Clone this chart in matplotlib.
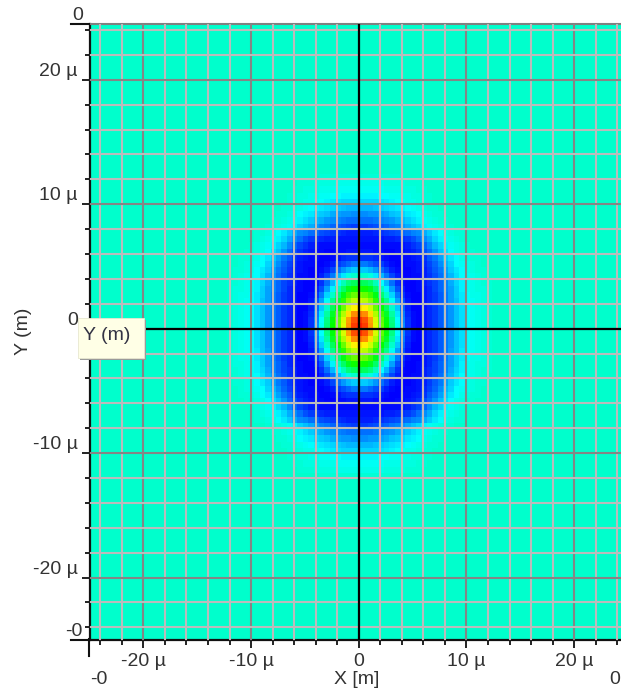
import numpy as np
import matplotlib
matplotlib.use("Agg")
import matplotlib.pyplot as plt
from matplotlib.colors import LinearSegmentedColormap
from matplotlib.patches import Rectangle
from matplotlib.ticker import FixedLocator

W, H = 621, 689

major_ticks = [-20, -10, 0, 10, 20]
x_tick_labels = ["-20 µ", "-10 µ", "0", "10 µ", "20 µ"]
y_tick_labels = ["-20 µ", "-10 µ", "0", "10 µ", "20 µ"]
minor_ticks = [-24, -22, -18, -16, -14, -12, -8, -6, -4, -2, 2, 4, 6, 8, 12, 14, 16, 18, 22, 24]
background_level = 30

# Upper-right quadrant of the field, read cell by cell; rows run away from the centre.
quadrant = np.array([
    [97,94,85,72,60,50,38,26,14, 5, 1, 0, 2, 4, 6, 9,12,15,19,22,25,26,27,28,29,30,30],
    [95,92,84,71,59,49,37,25,13, 5, 1, 0, 2, 4, 6, 9,12,15,19,22,25,26,27,28,29,30,30],
    [88,86,78,67,56,46,34,23,12, 4, 1, 0, 2, 4, 6, 9,12,15,19,22,25,26,27,28,29,30,30],
    [78,76,70,60,50,41,30,20,10, 3, 0, 0, 2, 4, 6, 9,12,15,19,22,25,26,27,28,29,30,30],
    [70,68,63,54,45,36,26,16, 8, 2, 0, 0, 2, 4, 6, 9,12,16,19,23,25,26,27,28,29,30,30],
    [62,60,56,48,39,30,21,12, 5, 1, 0, 0, 2, 4, 6, 9,12,16,20,23,25,27,27,28,29,30,30],
    [52,51,47,40,32,24,16, 8, 3, 0, 0, 1, 2, 4, 7,10,13,16,20,24,26,27,28,28,29,30,30],
    [42,41,38,32,25,18,11, 5, 1, 0, 0, 1, 3, 5, 7,10,13,17,21,24,26,27,28,29,29,30,30],
    [30,30,28,23,18,12, 7, 3, 0, 0, 1, 1, 3, 5, 8,11,15,18,22,25,26,27,28,29,30,30,30],
    [20,20,18,15,11, 7, 3, 1, 0, 0, 1, 2, 3, 6, 9,12,16,20,23,25,27,28,29,29,30,30,30],
    [12,12,10, 8, 6, 3, 1, 0, 0, 1, 1, 2, 4, 7,10,14,18,21,25,26,27,28,29,30,30,30,30],
    [ 5, 5, 5, 4, 2, 1, 0, 0, 1, 1, 2, 3, 5, 9,12,16,20,23,25,27,28,29,29,30,30,30,30],
    [ 2, 2, 2, 1, 1, 0, 0, 1, 1, 2, 3, 5, 8,11,15,19,22,25,27,28,29,29,30,30,30,30,30],
    [ 1, 1, 1, 1, 1, 1, 1, 1, 2, 3, 5, 7,10,14,18,21,24,26,27,28,29,30,30,30,30,30,30],
    [ 2, 2, 2, 2, 2, 3, 3, 4, 5, 6, 8,11,14,17,21,24,26,27,28,29,30,30,30,30,30,30,30],
    [ 3, 3, 3, 4, 5, 6, 7, 8,10,11,13,14,17,20,23,25,27,28,29,29,30,30,30,30,30,30,30],
    [ 6, 6, 7, 8, 9,10,12,13,15,17,19,21,24,26,27,28,29,29,30,30,30,30,30,30,30,30,30],
    [11,11,11,12,13,14,15,17,18,20,22,24,26,27,28,29,29,30,30,30,30,30,30,30,30,30,30],
    [14,14,15,15,16,17,19,20,21,23,24,25,27,28,29,29,30,30,30,30,30,30,30,30,30,30,30],
    [18,18,18,19,20,21,22,23,24,25,26,27,28,29,29,30,30,30,30,30,30,30,30,30,30,30,30],
    [21,21,21,21,22,23,24,25,26,27,27,28,29,29,30,30,30,30,30,30,30,30,30,30,30,30,30],
    [24,24,24,24,25,25,26,26,27,27,28,28,29,29,30,30,30,30,30,30,30,30,30,30,30,30,30],
    [26,26,26,26,26,27,27,27,28,28,28,29,29,30,30,30,30,30,30,30,30,30,30,30,30,30,30],
    [27,27,27,27,27,28,28,28,28,29,29,29,30,30,30,30,30,30,30,30,30,30,30,30,30,30,30],
    [29,29,29,29,29,29,29,29,30,30,30,30,30,30,30,30,30,30,30,30,30,30,30,30,30,30,30],
])

# Whole field: mirror the quadrant and surround it with the flat background level.
half_cells = 50
field = np.full((2 * half_cells + 1, 2 * half_cells + 1), background_level, dtype=float)
rows, cols = quadrant.shape
for j in range(rows):
    for i in range(cols):
        for sj in (-1, 1):
            for si in (-1, 1):
                field[half_cells + sj * j, half_cells + si * i] = quadrant[j, i]

cmap = LinearSegmentedColormap.from_list(
    "rainbow5", [(0, 0, 1), (0, 1, 1), (0, 1, 0), (1, 1, 0), (1, 0, 0)], N=512)

plt.rcParams["font.family"] = ["Liberation Sans", "DejaVu Sans"]
TXT = "#333333"
FS = 14

fig = plt.figure(figsize=(W / 100, H / 100), dpi=100, facecolor="white")
left, right, top, bottom = 89.5, 628.0, 24.0, 639.5
ax = fig.add_axes([left / W, 1 - bottom / H, (right - left) / W, (bottom - top) / H])

# The displayed field sits slightly above the axis origin in the reference.
ax.imshow(field, cmap=cmap, vmin=0, vmax=100, origin="lower", aspect="auto",
          interpolation="nearest", extent=(-25.25, 25.25, -25.05, 25.45), zorder=1)
ax.set_xlim(-25, 25)
ax.set_ylim(-24.98, 24.48)

ax.set_xticks(major_ticks)
ax.set_xticklabels(x_tick_labels)
ax.set_yticks(major_ticks)
ax.set_yticklabels(y_tick_labels)
ax.xaxis.set_minor_locator(FixedLocator(minor_ticks))
ax.yaxis.set_minor_locator(FixedLocator(minor_ticks))

ax.grid(which="minor", color="#bbbbbb", lw=1.5, zorder=2)
ax.grid(which="major", color="#858585", lw=1.5, zorder=3)
ax.set_axisbelow(False)
for lines in (ax.get_xgridlines(), ax.get_ygridlines()):
    for ln in lines:
        ln.set_zorder(3)

ax.axvline(0, color="black", lw=1.6, zorder=4)
ax.axhline(0, color="black", lw=1.6, zorder=4)

ax.tick_params(axis="both", which="major", length=6, width=1.4, color="#222222",
               labelsize=FS, labelcolor=TXT)
ax.tick_params(axis="both", which="minor", length=3.5, width=1.4, color="#222222")
ax.tick_params(axis="x", which="major", pad=3.5)
ax.tick_params(axis="y", which="major", pad=2.5)
for lab in ax.get_yticklabels():
    lab.set_verticalalignment("bottom")

ax.spines["right"].set_visible(False)
ax.spines["top"].set_color("#808080")
ax.spines["top"].set_linewidth(1.5)
ax.spines["left"].set_color("#111111")
ax.spines["left"].set_linewidth(1.6)
ax.spines["bottom"].set_color("#111111")
ax.spines["bottom"].set_linewidth(1.6)

def px(x, y):
    return x / W, 1 - y / H

# Long end ticks of both axes.
for xs, ys in (((71, 89), (24, 24)), ((71, 89), (639.5, 639.5)), ((89, 89), (639, 656))):
    fig.add_artist(plt.Line2D([x / W for x in xs], [1 - y / H for y in ys],
                              color="#111111", lw=1.5))

# Range end labels and axis titles.
fig.text(*px(83, 24), "0", ha="right", va="bottom", fontsize=FS, color=TXT)
fig.text(*px(83, 640), "-0", ha="right", va="bottom", fontsize=FS, color=TXT)
fig.text(*px(90, 688), "-0", ha="left", va="bottom", fontsize=FS, color=TXT)
fig.text(*px(620, 688), "0", ha="right", va="bottom", fontsize=FS, color=TXT)
fig.text(*px(357, 679), "X [m]", ha="center", va="center", fontsize=FS, color=TXT)
fig.text(*px(24, 331), "Y (m)", ha="center", va="center", rotation=90, fontsize=FS, color=TXT)

# Tooltip over the Y axis.
fig.add_artist(Rectangle(px(80, 360), 66 / W, 40 / H, transform=fig.transFigure,
                         facecolor="#9a9a9a", edgecolor="none", zorder=10))
fig.add_artist(Rectangle(px(78, 358), 66 / W, 40 / H, transform=fig.transFigure,
                         facecolor="#ffffe6", edgecolor="#e8e8d0", lw=0.6, zorder=11))
fig.text(*px(83, 335), "Y (m)", ha="left", va="center", fontsize=FS, color="#333344", zorder=12)

fig.savefig("out.png", dpi=100)
